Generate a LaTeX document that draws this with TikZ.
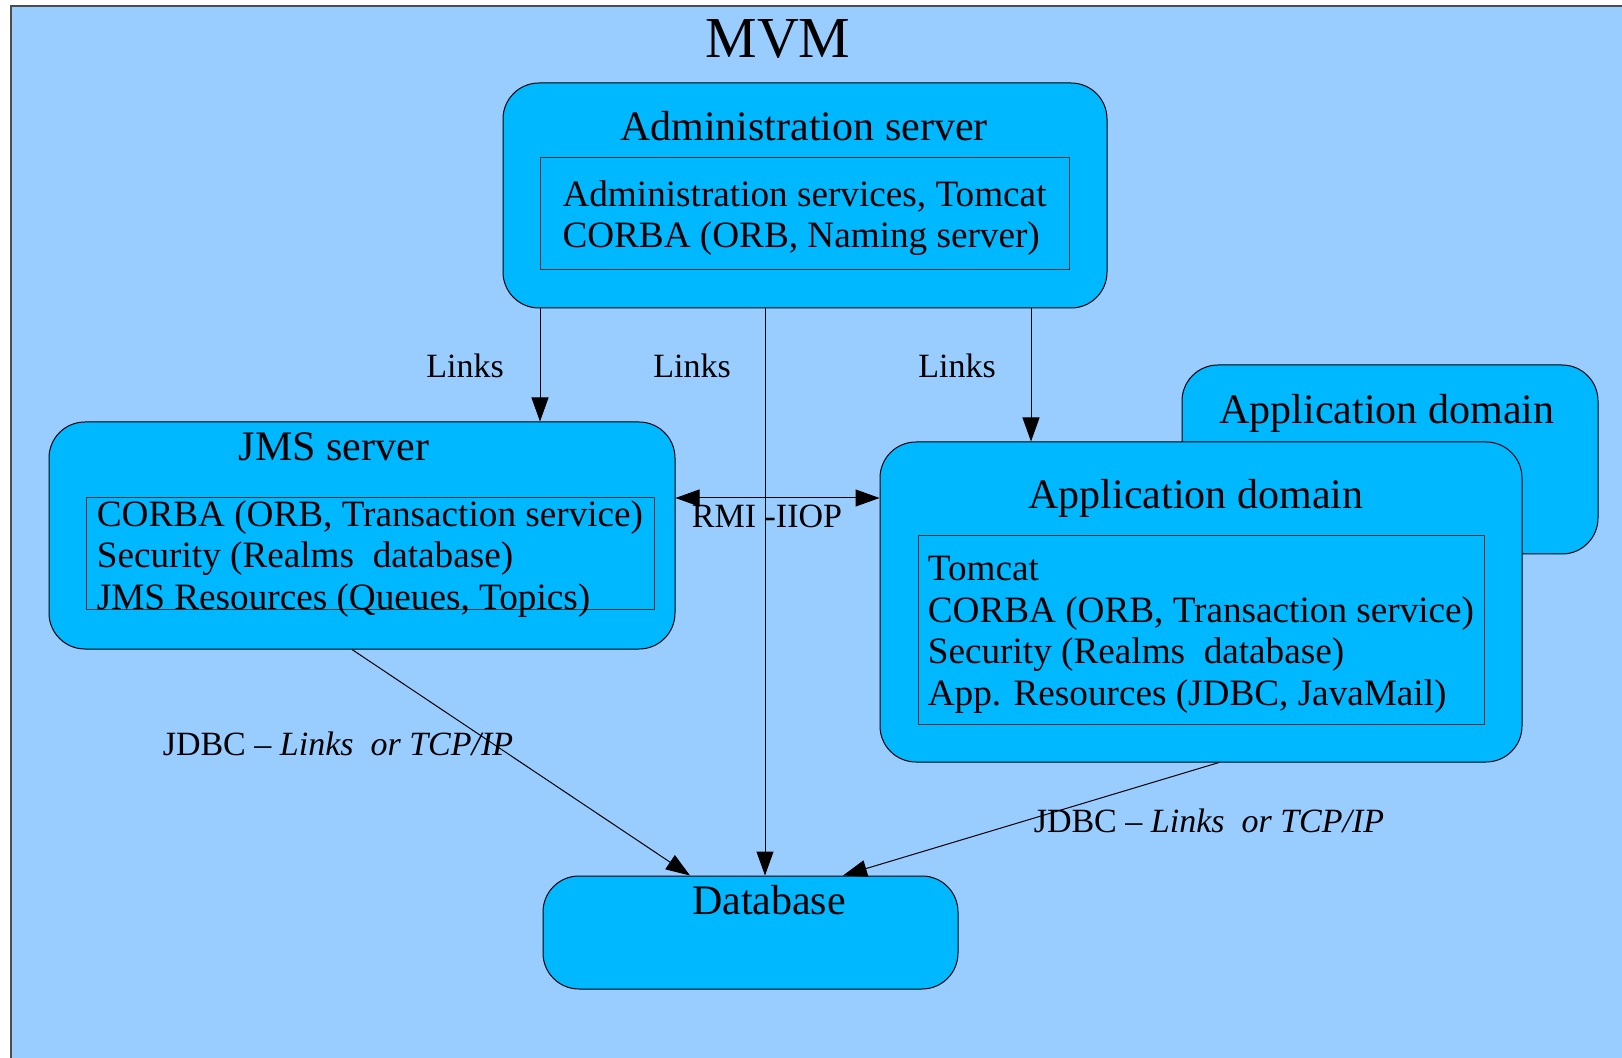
\documentclass[tikz,border=0pt]{standalone}
\usepackage{fontspec}
\setmainfont{Liberation Serif}
\usetikzlibrary{arrows.meta, positioning}
\definecolor{mvmbg}{HTML}{99CCFF}
\definecolor{boxfill}{HTML}{00B8FF}

\begin{document}
\begin{tikzpicture}[x=0.5pt,y=-0.5pt,
	>={Triangle[length=12pt,width=8.5pt]},
	dombox/.style={draw=black, line width=0.5pt, fill=boxfill, rounded corners=18pt, inner sep=0pt},
	inbox/.style={draw=black!80, line width=0.5pt, align=left, inner sep=0pt, font=\fontsize{18.6}{20.7}\selectfont},
	head/.style={font=\fontsize{21}{25}\selectfont},
	lbl/.style={font=\fontsize{17}{20}\selectfont},
	link/.style={line width=0.5pt, ->}]
	\useasboundingbox (0,0) rectangle (1622,1058);
	\filldraw[fill=mvmbg, draw=black!70, line width=0.7pt] (11,6) rectangle (1650,1080);
	\node[font=\fontsize{29}{34}\selectfont] (title) at (778,39) {MVM};
	% administration server
	\node[dombox, minimum width=302pt, minimum height=112.5pt] (admin) at (805,195.5) {};
	\node[head] (adminhead) at (804,126) {Administration server};
	\node[inbox, minimum width=264.5pt, minimum height=56.35pt, text height=45.35pt, text depth=11pt] (adminin) at (804.5,213.65)
		{Administration services, Tomcat\\CORBA (ORB, Naming server)};
	% JMS server
	\node[dombox, minimum width=313pt, minimum height=113.5pt] (jms) at (362,535.5) {};
	\node[head] (jmshead) at (334,447) {JMS server};
	\node[inbox, minimum width=284pt, minimum height=56.35pt, text height=56pt, text depth=0.35pt] (jmsin) at (370,553.65)
		{CORBA (ORB, Transaction service)\\Security (Realms\ \ database)\\JMS Resources (Queues, Topics)};
	% application domains
	\node[dombox, minimum width=208pt, minimum height=94.5pt] (appback) at (1390,459.5) {};
	\node[head] (appbackhead) at (1387,413) {Application domain};
	\node[dombox, minimum width=321pt, minimum height=160pt] (app) at (1201,602) {};
	\node[head] (apphead) at (1196,498) {Application domain};
	\node[inbox, minimum width=283pt, minimum height=94.35pt, text height=84.85pt, text depth=9.5pt] (appin) at (1201,629.65)
		{Tomcat\\CORBA (ORB, Transaction service)\\Security (Realms\ \ database)\\App. Resources (JDBC, JavaMail)};
	% database
	\node[dombox, minimum width=207.5pt, minimum height=56.5pt] (db) at (750.5,932.5) {};
	\node[head] (dbhead) at (769,900) {Database};
	% labels
	\node[lbl] (links1) at (465,366) {Links};
	\node[lbl] (links2) at (692,366) {Links};
	\node[lbl] (links3) at (957,366) {Links};
	\node[lbl] (rmi) at (767,516) {RMI -IIOP};
	\node[lbl] (jdbc1) at (338,744) {JDBC – \textit{Links\ \ or TCP/IP}};
	\node[lbl] (jdbc2) at (1209,821) {JDBC – \textit{Links\ \ or TCP/IP}};
	% connectors
	\draw[link] (540,0 |- admin.south) -- (540,0 |- jms.north);
	\draw[link] (765,0 |- admin.south) -- (765,0 |- db.north);
	\draw[link] (1031,0 |- admin.south) -- (1031,0 |- app.north);
	\draw[link,<->] (jms.east |- 0,498) -- (app.west |- 0,498);
	\draw[link] (352,0 |- jms.south) -- (690,0 |- db.north);
	\draw[link] (1219,0 |- app.south) -- (843,0 |- db.north);
\end{tikzpicture}
\end{document}
